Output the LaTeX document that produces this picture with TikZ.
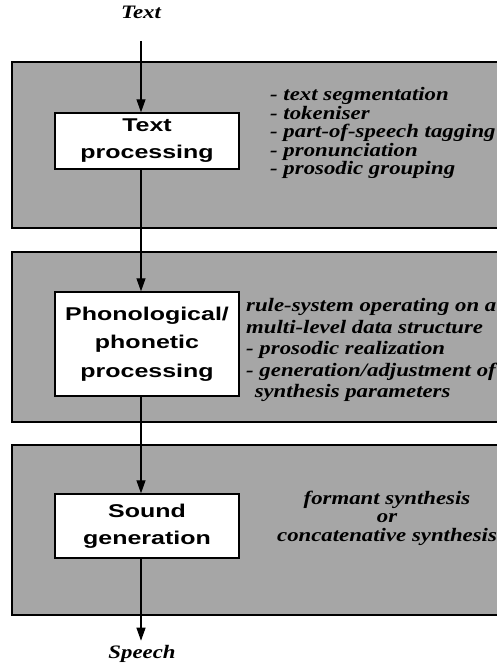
\documentclass[tikz,border=0pt]{standalone}
\usepackage{fontspec}
\setmainfont{Liberation Serif}
\newfontfamily\headfont[FakeStretch=1.35]{Liberation Sans}
\newfontfamily\notefont[FakeStretch=1.2]{Liberation Serif}
\usetikzlibrary{positioning,arrows.meta}
\tikzset{panel/.style={          % grey band behind each stage
           draw, line width=1.4pt,
           fill=black!35},
         stage/.style={          % white processing box
           draw, line width=1.4pt, fill=white,
           minimum width=184pt, align=center,
           font=\headfont\bfseries\fontsize{18.5}{27}\selectfont},
         notes/.style={          % italic remarks beside a box
           align=left, inner sep=0pt,
           font=\notefont\bfseries\itshape\fontsize{19}{18.5}\selectfont},
         io/.style={             % input and output labels
           font=\notefont\bfseries\itshape\fontsize{19}{20}\selectfont},
         flow/.style={           % arrows between the stages
           -{Triangle[length=13pt,width=9pt]},
           line width=1.2pt}}

\begin{document}
\begin{tikzpicture}[x=1pt,y=-1pt]
\useasboundingbox (0,0) rectangle (497,664);

% the three bands
\draw[panel] (12,62) rectangle (506,228);
\draw[panel] (12,252) rectangle (506,422);
\draw[panel] (12,445) rectangle (506,615);

% stages
\node[stage, minimum height=56pt] (tp) at (147,141) {Text\\processing};
\node[stage, minimum height=104pt, font=\headfont\bfseries\fontsize{18.5}{28.5}\selectfont] (ppp) at (147,344) {Phonological/\\phonetic\\processing};
\node[stage, minimum height=64pt] (sg) at (147,526) {Sound\\generation};

% remarks
\node[notes, anchor=west] (tpnotes) at (270,133) {- text segmentation\\- tokeniser\\- part-of-speech tagging\\- pronunciation\\- prosodic grouping};
\node[notes, anchor=west, font=\notefont\bfseries\itshape\fontsize{19}{21.5}\selectfont] (pppnotes) at (246,350)
  {rule-system operating on a\\multi-level data structure\\- prosodic realization\\- generation/adjustment of\\\hspace*{0.45em}synthesis parameters};
\node[notes, align=center] (sgnotes) at (387,518) {formant synthesis\\or\\concatenative synthesis};

% input and output
\node[io] (intext) at (141,12) {Text};
\node[io] (outspeech) at (142,654) {Speech};

\draw[flow, shorten <=19pt] (intext) -- (intext |- tp.north);
\draw[flow] (tp.south -| intext) -- (ppp.north -| intext);
\draw[flow] (ppp.south -| intext) -- (sg.north -| intext);
\draw[flow] (sg.south -| intext) -- ++(0,82);

\end{tikzpicture}
\end{document}
